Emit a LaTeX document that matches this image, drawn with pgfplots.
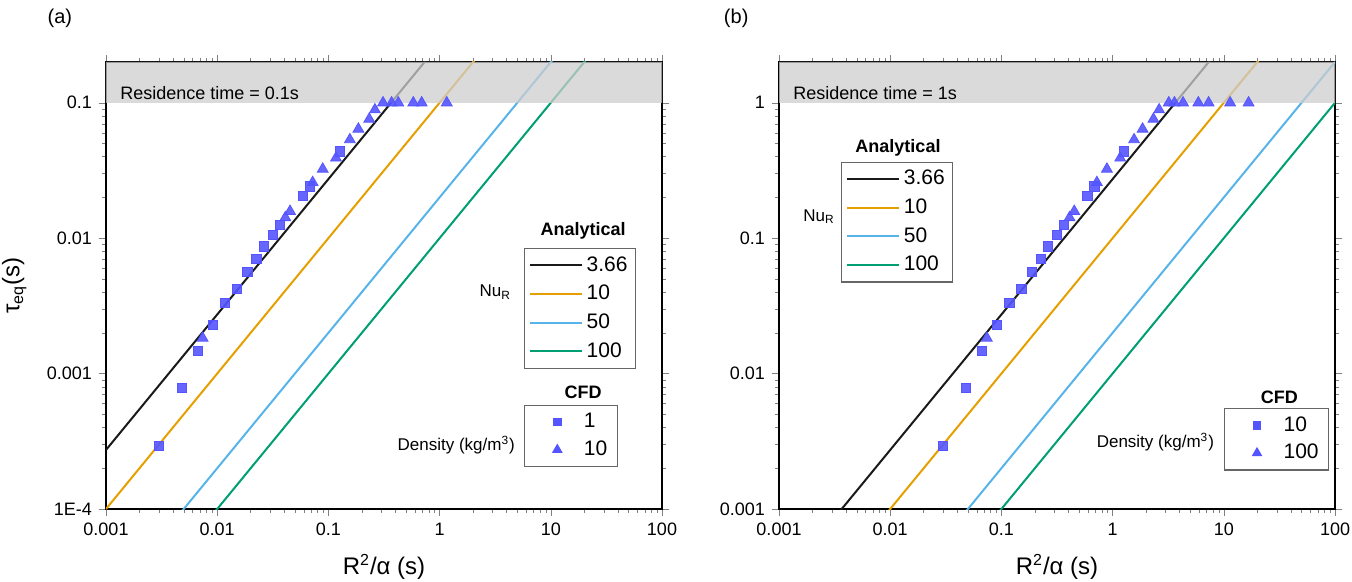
\documentclass[border=0pt]{standalone}
\usepackage{pgfplots}
\pgfplotsset{compat=1.18}
\usepackage{fontspec}
\setmainfont{Liberation Sans}
\definecolor{cblack}{HTML}{1A1A1A}
\definecolor{corange}{HTML}{E69F00}
\definecolor{cblue}{HTML}{56B4E9}
\definecolor{cgreen}{HTML}{009E73}
\definecolor{mblue}{RGB}{85,85,255}
\definecolor{bandgray}{RGB}{205,205,205}

\pgfplotstableread{
x y
0.0030 2.94e-4
0.0048 7.8e-4
0.0067 1.48e-3
0.0091 2.29e-3
0.0118 3.33e-3
0.0151 4.22e-3
0.0187 5.6e-3
0.0225 7.0e-3
0.0264 8.7e-3
0.0316 0.0106
0.0367 0.0126
0.0594 0.0206
0.0687 0.0241
0.127 0.0438
}\sqA
\pgfplotstableread{
x y
0.0074 1.83e-3
0.0410 0.0142
0.0452 0.0158
0.0722 0.0258
0.0889 0.0324
0.117 0.0391
0.156 0.0534
0.186 0.064
0.233 0.0758
0.262 0.0888
0.31 0.1
0.37 0.1
0.425 0.1
0.58 0.1
0.69 0.1
1.16 0.1
}\trA
\pgfplotstableread{
x y
0.030 2.94e-3
0.048 7.8e-3
0.067 1.48e-2
0.091 2.29e-2
0.118 3.33e-2
0.151 4.22e-2
0.187 5.6e-2
0.225 7.0e-2
0.264 8.7e-2
0.316 0.106
0.367 0.126
0.594 0.206
0.687 0.241
1.27 0.438
}\sqB
\pgfplotstableread{
x y
0.074 1.83e-2
0.410 0.142
0.452 0.158
0.722 0.258
0.889 0.324
1.17 0.391
1.56 0.534
1.86 0.64
2.33 0.758
2.62 0.888
3.2 1
3.6 1
4.3 1
5.9 1
7.3 1
11.4 1
16.7 1
}\trB

\pgfplotsset{every axis/.append style={
    scale only axis, width=278pt, height=223.5pt,
    xmin=0.001, xmax=100,
    tick align=outside,
    major tick length=3.5pt, minor tick length=2pt,
    axis line style={line width=0.8pt},
    /pgf/number format/assume math mode=true,
    tick label style={font=\fontsize{9}{10}\selectfont},
    legend cell align=left,
    every axis title shift=0pt,
}}

\begin{document}
\begin{tikzpicture}
\path[use as bounding box] (0,0) rectangle (676pt,291pt);

% ---------------- panel (a)
\begin{axis}[xmode=log, ymode=log, at={(53pt,36.5pt)}, anchor=south west,
  title={(a)}, title style={at={(axis description cs:-0.083,1.098)}, anchor=center, font=\fontsize{10}{12}\selectfont},
  xtick={0.001,0.01,0.1,1,10,100},
  xticklabels={0.001,0.01,0.1,1,10,100},
  xlabel={R\textsuperscript{2}/α (s)},
  xlabel style={font=\fontsize{12}{14}\selectfont, at={(axis description cs:0.5,-0.13)}, anchor=center},
  ymin=1e-4, ymax=0.2,
  ytick={1e-4,1e-3,1e-2,1e-1},
  yticklabels={1E-4,0.001,0.01,0.1},
  ylabel={τ\textsubscript{eq}(s)},
  ylabel style={font=\fontsize{12}{14}\selectfont, at={(axis description cs:-0.165,0.5)}, anchor=center},
  legend image code/.code={\draw[#1] (0pt,0pt) -- (26pt,0pt);},
  legend style={at={(axis description cs:0.752,0.584)}, anchor=north west, draw=gray!80!black, line width=0.6pt,
      font=\fontsize{10.5}{12}\selectfont, row sep=1.5pt, inner xsep=2pt, inner ysep=2pt, fill=white}]
\addplot[line width=1pt, cblack] coordinates {(0.001,0.000273) (1,0.273)};
\addlegendentry{3.66}
\addplot[line width=1pt, corange] coordinates {(0.001,0.0001) (10,1)};
\addlegendentry{10}
\addplot[line width=1pt, cblue] coordinates {(0.001,0.00002) (100,2)};
\addlegendentry{50}
\addplot[line width=1pt, cgreen] coordinates {(0.001,0.00001) (100,1)};
\addlegendentry{100}
\addplot[forget plot, draw=none, fill=bandgray, fill opacity=0.75] coordinates {(0.001,0.1) (100,0.1) (100,0.2) (0.001,0.2) (0.001,0.1)};
\addplot[forget plot, only marks, mark=square*, mark size=2.3pt, color=mblue, fill opacity=0.9] table {\sqA};
\addplot[forget plot, only marks, mark=triangle*, mark size=3.1pt, color=mblue, fill opacity=0.9] table {\trA};
\node[anchor=west, font=\fontsize{9}{11}\selectfont] at (axis description cs:0.013,0.931) {Residence time = 0.1s};
\node[font=\fontsize{9}{11}\selectfont\bfseries] at (axis description cs:0.858,0.622) {Analytical};
\node[font=\fontsize{8.5}{10}\selectfont] at (axis description cs:0.70,0.485) {Nu\textsubscript{R}};
\node[font=\fontsize{9}{11}\selectfont\bfseries] at (axis description cs:0.858,0.262) {CFD};
\node[anchor=east, font=\fontsize{8.5}{10}\selectfont] at (axis description cs:0.748,0.143) {Density (kg/m\textsuperscript{3})};
\end{axis}
\begin{axis}[xmode=log, ymode=log, hide axis, at={(53pt,36.5pt)}, anchor=south west, ymin=1e-4, ymax=0.2,
  legend image code/.code={\path (0pt,0pt) (24pt,0pt); \draw[#1] plot coordinates {(13pt,0pt)};},
  legend style={at={(axis description cs:0.752,0.233)}, anchor=north west, draw=gray!80!black, line width=0.6pt,
      font=\fontsize{10.5}{12}\selectfont, row sep=1pt, inner xsep=3pt, inner ysep=2pt, fill=white}]
\addlegendimage{only marks, mark=square*, mark size=1.8pt, color=mblue}
\addlegendentry{1}
\addlegendimage{only marks, mark=triangle*, mark size=2.5pt, color=mblue}
\addlegendentry{10}
\end{axis}

% ---------------- panel (b)
\begin{axis}[xmode=log, ymode=log, at={(389.5pt,36.5pt)}, anchor=south west,
  title={(b)}, title style={at={(axis description cs:-0.077,1.098)}, anchor=center, font=\fontsize{10}{12}\selectfont},
  xtick={0.001,0.01,0.1,1,10,100},
  xticklabels={0.001,0.01,0.1,1,10,100},
  xlabel={R\textsuperscript{2}/α (s)},
  xlabel style={font=\fontsize{12}{14}\selectfont, at={(axis description cs:0.5,-0.13)}, anchor=center},
  ymin=1e-3, ymax=2,
  ytick={1e-3,1e-2,1e-1,1},
  yticklabels={0.001,0.01,0.1,1},
  legend image code/.code={\draw[#1] (0pt,0pt) -- (26pt,0pt);},
  legend style={at={(axis description cs:0.112,0.777)}, anchor=north west, draw=gray!80!black, line width=0.6pt,
      font=\fontsize{10.5}{12}\selectfont, row sep=1.5pt, inner xsep=2pt, inner ysep=2pt, fill=white}]
\addplot[line width=1pt, cblack] coordinates {(0.001,0.000273) (10,2.73)};
\addlegendentry{3.66}
\addplot[line width=1pt, corange] coordinates {(0.001,0.0001) (100,10)};
\addlegendentry{10}
\addplot[line width=1pt, cblue] coordinates {(0.001,0.00002) (100,2)};
\addlegendentry{50}
\addplot[line width=1pt, cgreen] coordinates {(0.001,0.00001) (100,1)};
\addlegendentry{100}
\addplot[forget plot, draw=none, fill=bandgray, fill opacity=0.75] coordinates {(0.001,1) (100,1) (100,2) (0.001,2) (0.001,1)};
\addplot[forget plot, only marks, mark=square*, mark size=2.3pt, color=mblue, fill opacity=0.9] table {\sqB};
\addplot[forget plot, only marks, mark=triangle*, mark size=3.1pt, color=mblue, fill opacity=0.9] table {\trB};
\node[anchor=west, font=\fontsize{9}{11}\selectfont] at (axis description cs:0.013,0.931) {Residence time = 1s};
\node[font=\fontsize{9}{11}\selectfont\bfseries] at (axis description cs:0.214,0.808) {Analytical};
\node[font=\fontsize{8.5}{10}\selectfont] at (axis description cs:0.072,0.654) {Nu\textsubscript{R}};
\node[font=\fontsize{9}{11}\selectfont\bfseries] at (axis description cs:0.9,0.250) {CFD};
\node[anchor=east, font=\fontsize{8.5}{10}\selectfont] at (axis description cs:0.795,0.150) {Density (kg/m\textsuperscript{3})};
\end{axis}
\begin{axis}[xmode=log, ymode=log, hide axis, at={(389.5pt,36.5pt)}, anchor=south west, ymin=1e-3, ymax=2,
  legend image code/.code={\path (0pt,0pt) (24pt,0pt); \draw[#1] plot coordinates {(13pt,0pt)};},
  legend style={at={(axis description cs:0.8,0.226)}, anchor=north west, draw=gray!80!black, line width=0.6pt,
      font=\fontsize{10.5}{12}\selectfont, row sep=1pt, inner xsep=3pt, inner ysep=2pt, fill=white}]
\addlegendimage{only marks, mark=square*, mark size=1.8pt, color=mblue}
\addlegendentry{10}
\addlegendimage{only marks, mark=triangle*, mark size=2.5pt, color=mblue}
\addlegendentry{100}
\end{axis}
\end{tikzpicture}
\end{document}
